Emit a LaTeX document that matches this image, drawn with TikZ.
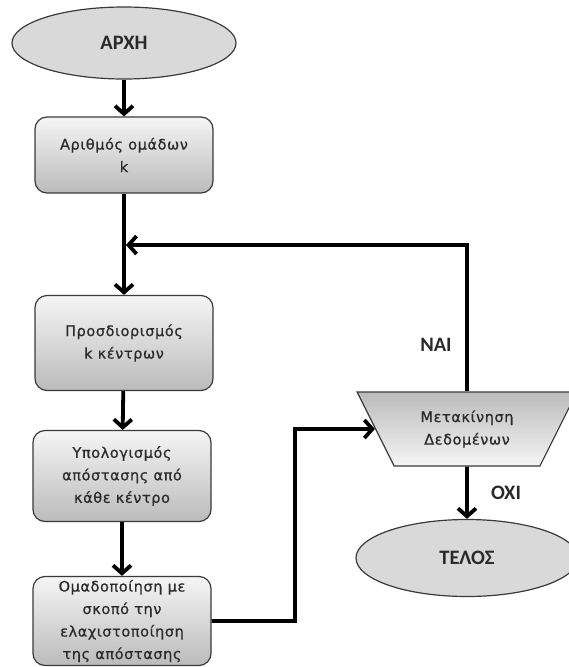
\documentclass[tikz,border=0pt]{standalone}
\usepackage{fontspec}
\setmainfont{DejaVu Sans}[LetterSpace=4, FakeBold=0.6]
\newfontfamily\calfont{Carlito}[BoldFont=* Bold]
\usetikzlibrary{positioning,arrows.meta,shapes.geometric,calc}

\definecolor{edgegray}{HTML}{3A3A3A}
\definecolor{textgray}{HTML}{2A2A2A}
\definecolor{termgray}{HTML}{D9D9D9}
\definecolor{shadetop}{HTML}{F5F5F5}
\definecolor{shadebot}{HTML}{BBBBBB}

\begin{document}
\begin{tikzpicture}[x=1pt, y=-1pt,
  >={Straight Barb[length=8pt,width=18pt]},
  flow/.style={line width=3.8pt, ->},
  terminal/.style={ellipse, draw=edgegray, line width=1.2pt, fill=termgray, text=textgray,
    minimum width=224pt, minimum height=72pt, font=\calfont\bfseries\fontsize{20.5}{22}\selectfont},
  process/.style={rectangle, rounded corners=12pt, draw=edgegray, line width=1.2pt, text=textgray,
    top color=shadetop, bottom color=shadebot, minimum width=178pt, align=center,
    font=\fontsize{14.5}{22.5}\selectfont},
  decision/.style={trapezium, shape border rotate=180, trapezium stretches=true,
    draw=edgegray, line width=1.2pt, text=textgray, top color=shadebot, bottom color=shadetop,
    minimum width=220pt, minimum height=74pt, align=center,
    font=\fontsize{14.5}{22.5}\selectfont},
  answer/.style={text=textgray, font=\calfont\bfseries\fontsize{20.5}{22}\selectfont}
]
  % Frame
  \useasboundingbox (0, 0) rectangle (569, 667);

  % Left column
  \node[terminal] (start) at (124, 43) {ΑΡΧΗ};
  \node[process, minimum height=76pt] (count) at (124, 155) {Αριθμός ομάδων\\k};
  \node[process, minimum height=95pt] (place) at (124, 343) {Προσδιορισμός\\k κέντρων};
  \node[process, minimum height=91pt] (dist) at (122, 476) {Υπολογισμός\\απόστασης από\\κάθε κέντρο};
  \node[process, minimum height=89pt] (group) at (122, 621) {Ομαδοποίηση με\\σκοπό την\\ελαχιστοποίηση\\της απόστασης};

  % Right column
  \node[decision] (move) at (467, 429) {Μετακίνηση\\Δεδομένων};
  \node[terminal, minimum width=222pt, minimum height=77pt] (stop) at (467, 558) {ΤΕΛΟΣ};

  % Helper points
  \coordinate (join) at (126, 245);
  \coordinate (bend) at (295, 429);

  % Connectors
  \foreach \a/\b in {start/count, place/dist, dist/group} {
    \draw[flow] (\a) -- (\b);
  }
  \draw[flow] (count) -- (place);
  \draw[flow] (move.north) |- (join);
  \draw[flow] (group.east) -| (bend) -- (move.west);
  \draw[flow] (move) -- (stop);

  % Answers
  \node[answer] (yes) at (436, 345) {ΝΑΙ};
  \node[answer] (no) at (506, 493) {ΟΧΙ};

\end{tikzpicture}
\end{document}
